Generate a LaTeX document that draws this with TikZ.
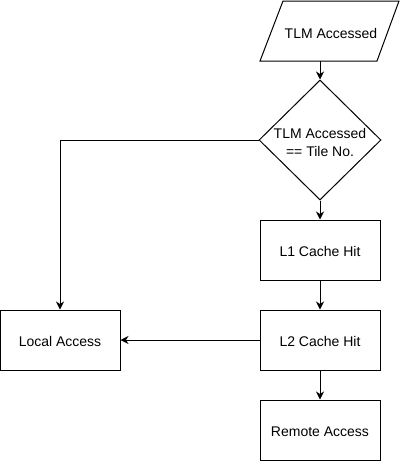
\documentclass[tikz,border=0pt]{standalone}
\usepackage{fontspec}
\setmainfont{Liberation Sans}
\usetikzlibrary{arrows.meta,shapes.geometric}
\begin{document}
\begin{tikzpicture}[x=1pt,y=-1pt,
  txt/.style={font=\fontsize{14}{18}\selectfont, align=center},
  box/.style={txt, draw, line width=1pt, minimum width=120pt, minimum height=60pt, inner sep=0pt, text height=13.5pt, text depth=0pt},
  dia/.style={draw, line width=1pt, shape=diamond, minimum width=122pt, minimum height=120pt, inner sep=0pt},
  conn/.style={line width=1pt, -{Stealth[length=8pt,width=8pt,inset=2.5pt]}}]
\useasboundingbox (0,0) rectangle (401,461);
% parallelogram
\draw[line width=1pt] (260,61) -- (283,1) -- (399,1) -- (377,61) -- cycle;
\node[txt] (tlm) at (331,33) {TLM Accessed};
\coordinate (pb) at (320,61);
\node[dia] (d) at (320,140) {};
\node[txt] (dt) at (320,142) {TLM Accessed\\== Tile No.};
\node[box] (l1) at (320,250) {L1 Cache Hit};
\node[box] (l2) at (320,340) {L2 Cache Hit};
\node[box] (ra) at (320,430) {Remote Access};
\node[box] (la) at (60,340) {Local Access};
\draw[conn] (pb) -- (d.north);
\draw[conn] (d.south) -- (l1.north);
\draw[conn] (l1.south) -- (l2.north);
\draw[conn] (l2.south) -- (ra.north);
\draw[conn] (l2.west) -- (la.east);
\draw[conn] (d.west) -| (la.north);
\end{tikzpicture}
\end{document}
